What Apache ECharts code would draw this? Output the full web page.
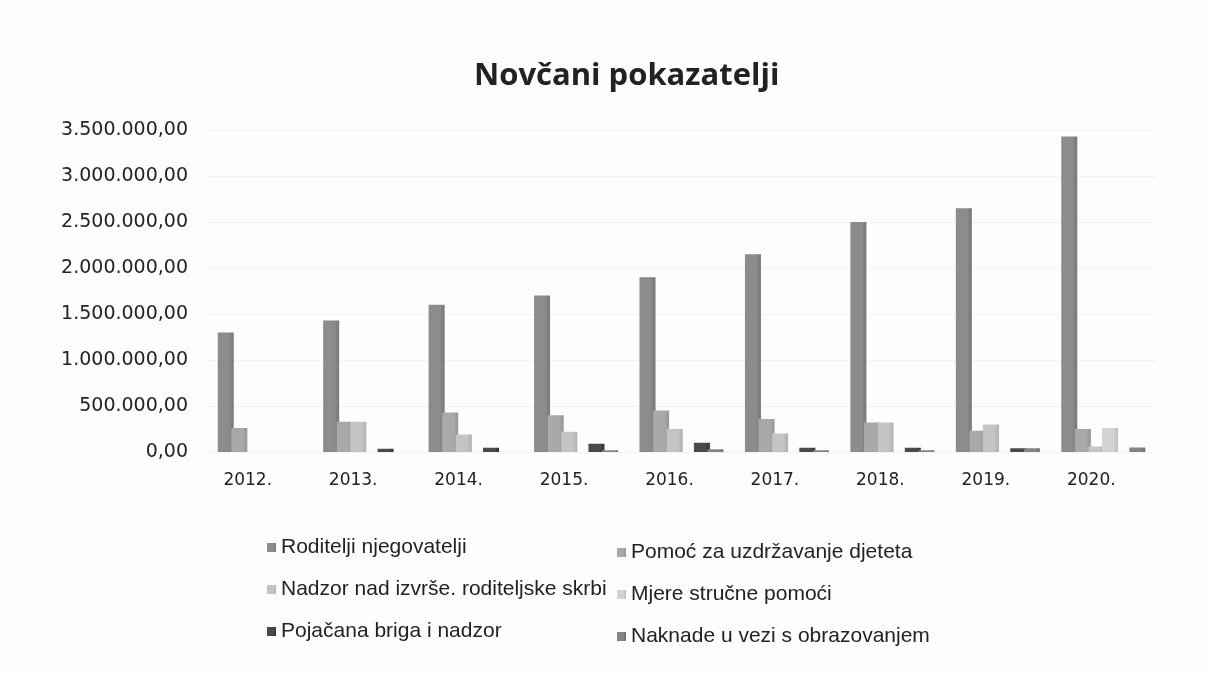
<!DOCTYPE html>
<html>
<head>
<meta charset="utf-8">
<title>Novčani pokazatelji</title>
<script src="https://cdn.jsdelivr.net/npm/echarts@6/dist/echarts.min.js"></script>
<style>
  html, body { margin: 0; padding: 0; background: #fdfdfd; }
  #chart { width: 1209px; height: 674px; }
</style>
</head>
<body>
<div id="chart"></div>
<script>
// godine
var years = ['2012.', '2013.', '2014.', '2015.', '2016.', '2017.', '2018.', '2019.', '2020.']

// iznosi po vrsti naknade (procjena s grafikona)
var roditeljiNjegovatelji = [1300000, 1430000, 1600000, 1700000, 1900000, 2150000, 2500000, 2650000, 3430000]
var pomocUzdrzavanje = [260000, 330000, 430000, 400000, 450000, 360000, 320000, 230000, 250000]
var nadzorSkrbi = [0, 330000, 190000, 220000, 250000, 200000, 320000, 300000, 60000]
var mjereStrucnePomoci = [0, 0, 0, 0, 0, 0, 0, 0, 260000]
var pojacanaBriga = [0, 35000, 45000, 90000, 100000, 45000, 45000, 40000, 0]
var naknadeObrazovanje = [0, 0, 0, 20000, 30000, 20000, 20000, 40000, 50000]

var seriesNames = [
  'Roditelji njegovatelji',
  'Pomoć za uzdržavanje djeteta',
  'Nadzor nad izvrše. roditeljske skrbi',
  'Mjere stručne pomoći',
  'Pojačana briga i nadzor',
  'Naknade u vezi s obrazovanjem'
]
var seriesData = [roditeljiNjegovatelji, pomocUzdrzavanje, nadzorSkrbi, mjereStrucnePomoci, pojacanaBriga, naknadeObrazovanje]
var colors = ['#8c8c8c', '#a9a9a9', '#c4c4c4', '#d2d2d2', '#4a4a4a', '#858585']
var shades = ['#767676', '#959595', '#b0b0b0', '#bdbdbd', '#333333', '#6e6e6e']

function formatHr(v) {
  var s = Math.round(v).toString().replace(/\B(?=(\d{3})+(?!\d))/g, '.')
  return s + ',00'
}

var chart = echarts.init(document.getElementById('chart'))

chart.setOption({
  backgroundColor: '#fdfdfd',
  textStyle: { fontFamily: 'Liberation Sans' },
  title: {
    text: 'Novčani pokazatelji',
    left: 469,
    top: 56,
    textStyle: { fontSize: 31, fontWeight: 'bold', color: '#222', fontFamily: 'Open Sans' }
  },
  legend: [
    {
      orient: 'vertical',
      left: 262,
      top: 532,
      itemWidth: 9,
      itemHeight: 9,
      itemGap: 21,
      icon: 'rect',
      textStyle: { fontSize: 21, color: '#222' },
      data: [seriesNames[0], seriesNames[2], seriesNames[4]]
    },
    {
      orient: 'vertical',
      left: 612,
      top: 537,
      itemWidth: 9,
      itemHeight: 9,
      itemGap: 21,
      icon: 'rect',
      textStyle: { fontSize: 21, color: '#222' },
      data: [seriesNames[1], seriesNames[3], seriesNames[5]]
    }
  ],
  grid: { left: 207, right: 53, top: 130, bottom: 222 },
  xAxis: {
    type: 'category',
    data: years,
    axisLine: { show: false },
    axisTick: { show: false },
    axisLabel: {
      fontSize: 17, color: '#222', margin: 20, fontFamily: 'DejaVu Sans',
      padding: [0, 24, 0, 0]
    }
  },
  yAxis: {
    type: 'value',
    min: 0,
    max: 3500000,
    interval: 500000,
    splitLine: { show: true, lineStyle: { color: '#f3f3f3' } },
    axisLine: { show: false },
    axisTick: { show: false },
    axisLabel: { fontSize: 19, color: '#222', margin: 19, fontFamily: 'DejaVu Sans', formatter: formatHr }
  },
  series: seriesNames.map(function (name, i) {
    return {
      name: name,
      type: 'bar',
      barWidth: 16,
      barGap: '-15%',
      data: seriesData[i],
      itemStyle: {
        color: new echarts.graphic.LinearGradient(0, 0, 1, 0, [
          { offset: 0, color: colors[i] },
          { offset: 0.7, color: colors[i] },
          { offset: 1, color: shades[i] }
        ])
      }
    }
  })
})
</script>
</body>
</html>
